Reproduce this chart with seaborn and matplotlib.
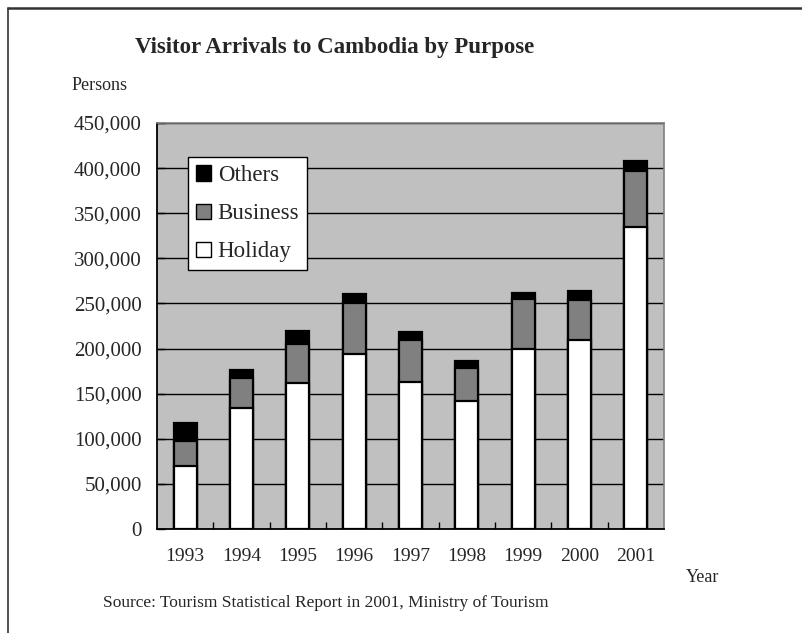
import numpy as np
import pandas as pd
import matplotlib
matplotlib.use("Agg")
import matplotlib.pyplot as plt
import seaborn as sns
from matplotlib.patches import Patch
from matplotlib.lines import Line2D
from matplotlib.ticker import FixedLocator

# ---- data ----
years = ["1993", "1994", "1995", "1996", "1997", "1998", "1999", "2000", "2001"]
holiday = [70000, 134000, 162000, 194000, 163000, 142000, 200000, 210000, 335000]
business = [27000, 33000, 43000, 57000, 47000, 37000, 55000, 44000, 62000]
others = [21000, 9000, 15000, 9000, 8000, 7000, 7000, 10000, 11000]
legend_labels = ["Others", "Business", "Holiday"]
y_ticks = [0, 50000, 100000, 150000, 200000, 250000, 300000, 350000, 400000, 450000]

title = "Visitor Arrivals to Cambodia by Purpose"
y_label = "Persons"
x_label = "Year"
source = "Source: Tourism Statistical Report in 2001, Ministry of Tourism"

sns.set_theme(style="white")
plt.rcParams['font.family'] = ['Liberation Serif', 'DejaVu Serif']

df = pd.DataFrame({"Year": years, "Holiday": holiday,
                   "Business": business, "Others": others})
df["HolidayBusiness"] = df["Holiday"] + df["Business"]
df["Total"] = df["HolidayBusiness"] + df["Others"]

W, H = 803, 633
fig = plt.figure(figsize=(W / 100, H / 100), dpi=100)
fig.patch.set_facecolor("white")
L, R, T, B = 157, 664, 123, 529
ax = fig.add_axes([L / W, 1 - B / H, (R - L) / W, (B - T) / H])
ax.set_facecolor("#C0C0C0")

layers = [("Total", "#000000"), ("HolidayBusiness", "#808080"), ("Holiday", "#FFFFFF")]
for col, colr in layers:
    sns.barplot(data=df, x="Year", y=col, color=colr, saturation=1, width=0.41,
                edgecolor="black", linewidth=1.6, ax=ax, zorder=3, errorbar=None)

ax.set_ylim(0, 450000)
ax.set_xlim(-0.5, len(years) - 0.5)
ax.set_yticks(y_ticks)
ax.set_yticklabels([f"{v:,}" for v in y_ticks])
ax.set_axisbelow(True)
ax.yaxis.grid(True, color="black", linewidth=1.0)
ax.xaxis.grid(False)
ax.set_xlabel("")
ax.set_ylabel("")

ax.tick_params(axis="y", direction="in", length=6, width=1, color="black",
               labelsize=15, pad=11, left=True)
ax.tick_params(axis="x", which="major", length=0, labelsize=14, pad=14)
ax.xaxis.set_minor_locator(FixedLocator(np.arange(0.5, len(years) - 0.5, 1.0)))
ax.tick_params(axis="x", which="minor", direction="in", length=5, width=1,
               color="black", bottom=True)

for s in ["left", "bottom"]:
    ax.spines[s].set_color("black")
    ax.spines[s].set_linewidth(1.3)
for s in ["top", "right"]:
    ax.spines[s].set_color("#808080")
    ax.spines[s].set_linewidth(1.2)

handles = [Patch(facecolor="#000000", edgecolor="black", linewidth=1),
           Patch(facecolor="#808080", edgecolor="black", linewidth=1),
           Patch(facecolor="#FFFFFF", edgecolor="black", linewidth=1)]
leg = fig.legend(handles, legend_labels, loc="upper left",
                 bbox_to_anchor=(188 / W, 1 - 157 / H), borderaxespad=0,
                 fancybox=False, framealpha=1, edgecolor="black",
                 fontsize=16.5, handlelength=0.65, handleheight=0.65,
                 handletextpad=0.3, labelspacing=0.75, borderpad=0.35)
leg.get_frame().set_linewidth(1.0)

fig.text(335 / W, 1 - 47 / H, title, ha="center", va="center",
         fontsize=16.5, fontweight="bold")
fig.text(72 / W, 1 - 85 / H, y_label, ha="left", va="center", fontsize=13)
fig.text(686 / W, 1 - 577 / H, x_label, ha="left", va="center", fontsize=13)
fig.text(103 / W, 1 - 603 / H, source, ha="left", va="center", fontsize=12.5)

# outer frame (top and left edges)
fig.add_artist(Line2D([8 / W, 1], [1 - 8 / H, 1 - 8 / H], transform=fig.transFigure,
                      color="#333333", linewidth=1.8))
fig.add_artist(Line2D([8 / W, 8 / W], [0, 1 - 8 / H], transform=fig.transFigure,
                      color="#333333", linewidth=1.2))

fig.savefig("out.png", dpi=100)
